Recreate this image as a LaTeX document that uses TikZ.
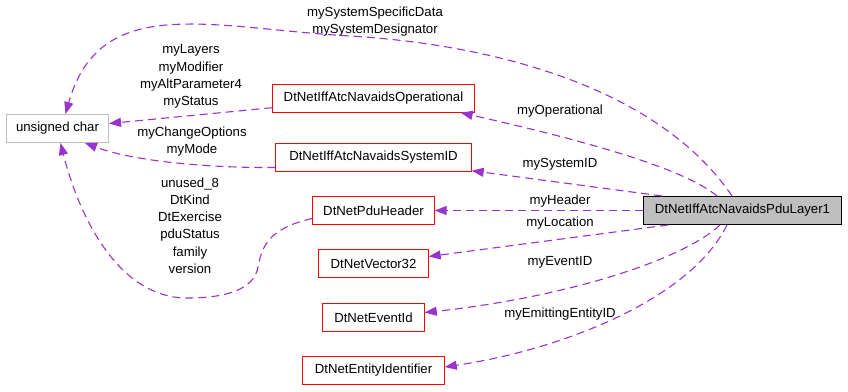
\documentclass[tikz,border=0pt]{standalone}
\usepackage{fontspec}
\setmainfont{Liberation Sans}
\usetikzlibrary{arrows.meta,calc}
\definecolor{edgec}{HTML}{9A32CD}
\definecolor{grayb}{HTML}{BFBFBF}
\definecolor{boxred}{HTML}{FF0000}
\begin{document}
\begin{tikzpicture}[x=1pt,y=-1pt,
  txt/.style={font=\fontsize{13.2}{17.2}\selectfont, text=black},
  box/.style={txt, inner sep=0pt, minimum height=28pt},
  gbox/.style={txt, draw=grayb, line width=1pt, inner sep=0pt, minimum height=28pt},
  mainbox/.style={txt, draw=black, fill=grayb, line width=1pt, inner sep=0pt, minimum height=28pt},
  frame/.style={draw=boxred, line width=1pt},
  rel/.style={draw=edgec, line width=1.1pt, dash pattern=on 8pt off 5pt, -{Triangle[length=12pt,width=9pt]}},
  lbl/.style={txt, align=center, inner sep=0pt}]
\useasboundingbox (0,0) rectangle (848,391);
% nodes
\node[gbox, minimum width=102pt] (uc) at (57.5,128.5) {unsigned char};
\node[box, minimum width=202pt] (op) at (373.5,98.5) {DtNetIffAtcNavaidsOperational};
\node[box, minimum width=196pt] (sysid) at (373.5,157.5) {DtNetIffAtcNavaidsSystemID};
\node[box, minimum width=122pt] (hdr) at (373.5,210.5) {DtNetPduHeader};
\node[box, minimum width=110pt] (vec) at (373.5,263.5) {DtNetVector32};
\node[box, minimum width=102pt] (evt) at (373.5,317.5) {DtNetEventId};
\node[box, minimum width=142pt] (ent) at (373.5,370.5) {DtNetEntityIdentifier};
\node[mainbox, minimum width=198pt] (main) at (742.5,210.5) {DtNetIffAtcNavaidsPduLayer1};
\foreach \n in {op,sysid,hdr,vec,evt,ent}
  \draw[frame] (\n.north west) rectangle (\n.south east);
% edges from main
\draw[rel] (main.west) -- (hdr.east);
\draw[rel] ($(main.south west)+(25,0)$) -- ($(vec.east)+(0,-7)$);
\draw[rel] ($(main.south west)+(77,0)$) .. controls (680,262) and (560,298) .. ($(evt.east)+(0,-5)$);
\draw[rel] ($(main.south west)+(84,0)$) .. controls (690,300) and (560,350) .. ($(ent.east)+(0,-3.5)$);
\draw[rel] ($(main.north west)+(19,0)$) -- ($(sysid.south east)+(0,-1)$);
\draw[rel] ($(main.north west)+(74,0)$) .. controls (680,165) and (560,135) .. ($(op.south east)+(-14,0)$);
\draw[rel] ($(main.north west)+(89,0)$) .. controls (660,90) and (500,45) .. (350,36)
   .. controls (210,28) and (100,-8) .. ($(uc.north)+(8,0)$);
% edges to unsigned char
\draw[rel] ($(op.south west)+(0,-5)$) -- ($(uc.east)+(0,-5)$);
\draw[rel] ($(sysid.west)+(0,10)$) .. controls (200,168) and (130,160) .. ($(uc.south west)+(79,0)$);
\draw[rel] ($(hdr.west)+(0,8)$) .. controls (270,228) and (262,245) .. (258,267)
   .. controls (254,290) and (225,298) .. (187,298)
   .. controls (120,298) and (80,220) .. ($(uc.south)+(3,0)$);
% labels
\node[lbl] (l1) at (375,21.5) {mySystemSpecificData\\mySystemDesignator};
\node[lbl] (l2) at (191,76.5) {myLayers\\myModifier\\myAltParameter4\\myStatus};
\node[lbl] (l3) at (192,141.5) {myChangeOptions\\myMode};
\node[lbl] (l4) at (190,225.5) {unused\_8\\DtKind\\DtExercise\\pduStatus\\family\\version};
\node[lbl] (l5) at (560,111) {myOperational};
\node[lbl] (l6) at (560,164) {mySystemID};
\node[lbl] (l7) at (560,201) {myHeader};
\node[lbl] (l8) at (560,223) {myLocation};
\node[lbl] (l9) at (560,262) {myEventID};
\node[lbl] (l10) at (560,314) {myEmittingEntityID};
\end{tikzpicture}
\end{document}
